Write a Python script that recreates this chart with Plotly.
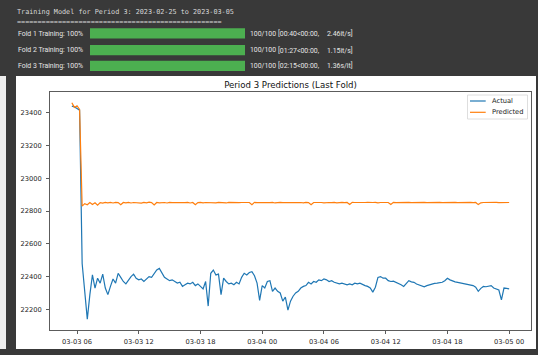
import plotly.graph_objects as go
import pandas as pd

# ---------------- data ----------------
header_text = "Training Model for Period 3: 2023-02-25 to 2023-03-05"
separator_text = "=" * 50
fold_labels = ["Fold 1 Training: 100%", "Fold 2 Training: 100%", "Fold 3 Training: 100%"]
fold_progress = [100, 100, 100]
fold_counts = ["100/100", "100/100", "100/100"]
fold_times = ["[00:40<00:00,", "[01:27<00:00,", "[02:15<00:00,"]
fold_rates = ["2.46it/s]", "1.15it/s]", "1.36s/it]"]

chart_title = "Period 3 Predictions (Last Fold)"
series_names = ["Actual", "Predicted"]

start_time = "2023-03-03 05:30"
step = "15min"

actual = [
    23440, 23435, 23425, 23415, 22480, 22330, 22140, 22290, 22410, 22330,
    22390, 22360, 22415, 22330, 22290, 22340, 22385, 22360, 22420, 22395,
    22370, 22355, 22380, 22400, 22415, 22390, 22380, 22385, 22370, 22385,
    22400, 22395, 22420, 22440, 22450, 22420, 22395, 22385, 22375, 22380,
    22370, 22360, 22365, 22340, 22350, 22360, 22355, 22365, 22345, 22355,
    22340, 22325, 22370, 22220, 22420, 22440, 22410, 22415, 22290, 22390,
    22370, 22355, 22360, 22350, 22365, 22355, 22395, 22420, 22410, 22425,
    22430, 22405, 22360, 22255, 22345, 22330, 22370, 22375, 22310, 22330,
    22310, 22300, 22250, 22275, 22195, 22250, 22280, 22300, 22310, 22330,
    22340, 22345, 22365, 22355, 22370, 22365, 22380, 22375, 22385, 22380,
    22370, 22375, 22365, 22360, 22355, 22360, 22355, 22350, 22355, 22350,
    22360, 22355, 22360, 22350, 22345, 22340, 22330, 22305, 22335, 22395,
    22400, 22390, 22390, 22375, 22370, 22372, 22365, 22360, 22350, 22340,
    22355, 22375, 22368, 22365, 22355, 22350, 22345, 22338, 22345, 22350,
    22352, 22358, 22360, 22362, 22365, 22375, 22390, 22380, 22372, 22368,
    22365, 22362, 22358, 22355, 22352, 22350, 22345, 22335, 22310, 22328,
    22340, 22338, 22342, 22345, 22330, 22325, 22318, 22258, 22330, 22328,
    22325,
]

predicted = [
    23460, 23432, 23442, 23420, 22830,
    22845, 22838, 22852, 22840, 22850, 22836, 22851, 22848, 22853, 22850,
    22852, 22849, 22853, 22851, 22838, 22852, 22850, 22853, 22849, 22852,
    22851, 22853, 22848, 22852, 22850, 22854, 22851, 22837, 22852, 22850,
    22853, 22852, 22849, 22853, 22851, 22852, 22850, 22853, 22852, 22851,
    22853, 22849, 22852, 22838, 22851, 22853, 22850, 22852, 22851, 22853,
    22852, 22850, 22853, 22851, 22852, 22849, 22853, 22852, 22850, 22853,
    22851, 22852, 22853, 22850, 22852, 22839, 22853, 22851, 22852, 22850,
    22853, 22852, 22851, 22853, 22849, 22852, 22853, 22851, 22852, 22850,
    22853, 22852, 22851, 22853, 22852, 22850, 22853, 22851, 22838, 22852,
    22853, 22851, 22852, 22850, 22853, 22852, 22851, 22853, 22850, 22852,
    22853, 22851, 22852, 22840, 22853, 22852, 22851, 22853, 22850, 22852,
    22853, 22851, 22852, 22853, 22850, 22852, 22851, 22853, 22852, 22840,
    22853, 22851, 22852, 22853, 22850, 22852, 22853, 22851, 22852, 22853,
    22850, 22852, 22853, 22851, 22852, 22853, 22850, 22852, 22853, 22851,
    22852, 22853, 22850, 22852, 22853, 22851, 22852, 22853, 22850, 22852,
    22853, 22851, 22852, 22839, 22850, 22852, 22853, 22851, 22852, 22853,
    22853, 22851, 22852, 22853, 22850, 22852,
]

# ---------------- build ----------------
t_actual = pd.date_range(start=start_time, periods=len(actual), freq=step)
t_pred = pd.date_range(start=start_time, periods=len(predicted), freq=step)

W, H = 550, 355
L, R, T, B = 50, 19, 92, 25
PW, PH = W - L - R, H - T - B


def px(x):
    return (x - L) / PW


def py(y):
    return (H - B - y) / PH


# matplotlib-like 5% autoscale margins
t0 = min(t_actual[0], t_pred[0])
t1 = max(t_actual[-1], t_pred[-1])
span = t1 - t0
xr = [t0 - span * 0.05, t1 + span * 0.05]
vmin = min(min(actual), min(predicted))
vmax = max(max(actual), max(predicted))
yr = [vmin - (vmax - vmin) * 0.05, vmax + (vmax - vmin) * 0.05]

BLUE = "#1f77b4"
ORANGE = "#ff7f0e"
DARK = "#393939"

fig = go.Figure()
fig.add_trace(go.Scatter(x=t_actual, y=actual, mode="lines", name=series_names[0],
                         line=dict(color=BLUE, width=1.2), showlegend=False))
fig.add_trace(go.Scatter(x=t_pred, y=predicted, mode="lines", name=series_names[1],
                         line=dict(color=ORANGE, width=1.2), showlegend=False))

shapes = []
annotations = []


def rect(x0, y0, x1, y1, fill, line_color=None, lw=0, layer="below"):
    shapes.append(dict(type="rect", xref="paper", yref="paper",
                       x0=px(x0), x1=px(x1), y0=py(y1), y1=py(y0),
                       fillcolor=fill, line=dict(color=line_color or fill, width=lw),
                       layer=layer))


def text(x, y, s, size, color, family, anchor="left"):
    annotations.append(dict(xref="paper", yref="paper", x=px(x), y=py(y), text=s,
                            showarrow=False, xanchor=anchor, yanchor="middle",
                            borderpad=0,
                            font=dict(size=size, color=color, family=family)))


# notebook background
rect(0, 0, 538, 355, DARK)
rect(0, 76, 6, 349, "#eeeeee")
rect(16, 76, 536, 349, "#ffffff")

# header text
MONO = "DejaVu Sans Mono"
SANS_UI = "Roboto"
text(16, 12, header_text, 6.8, "#d8d8d8", MONO)
text(16, 22, separator_text, 6.8, "#d8d8d8", MONO)

row_y = [33.5, 50.3, 66.0]
bar_x0, bar_x1 = 90, 245
for i, yy in enumerate(row_y):
    text(17, yy, fold_labels[i], 6.9, "#e6e6e6", SANS_UI)
    rect(bar_x0, yy - 5.2, bar_x0 + (bar_x1 - bar_x0) * fold_progress[i] / 100, yy + 5.0, "#4caf50")
    text(249, yy, fold_counts[i], 6.9, "#e6e6e6", SANS_UI)
    text(277, yy, fold_times[i], 6.9, "#e6e6e6", SANS_UI)
    text(326, yy, fold_rates[i], 6.9, "#e6e6e6", SANS_UI)

# legend (matplotlib style)
CHART_FONT = "DejaVu Sans"
shapes.append(dict(type="rect", xref="paper", yref="paper",
                   x0=px(467.5), x1=px(527.5), y0=py(119), y1=py(95),
                   fillcolor="rgba(255,255,255,0.8)", line=dict(color="#d6d6d6", width=0.8),
                   layer="above"))
for yy, col, name in [(101, BLUE, series_names[0]), (112.3, ORANGE, series_names[1])]:
    shapes.append(dict(type="line", xref="paper", yref="paper",
                       x0=px(470), x1=px(485.7), y0=py(yy), y1=py(yy),
                       line=dict(color=col, width=1.2), layer="above"))
    text(490.5, yy, name, 6.7, "#222222", CHART_FONT)

axis_common = dict(showline=True, mirror=True, linecolor="#333333", linewidth=0.8,
                   ticks="outside", ticklen=3, tickwidth=0.8, tickcolor="#333333",
                   showgrid=False, zeroline=False, automargin=False,
                   tickfont=dict(size=6.7, color="#222222", family=CHART_FONT))

fig.update_layout(
    width=W, height=H,
    margin=dict(l=L, r=R, t=T, b=B, pad=0),
    paper_bgcolor="#ffffff",
    plot_bgcolor="#ffffff",
    showlegend=False,
    title=dict(text=chart_title, x=px(290.5), xref="paper", xanchor="center",
               y=1 - 85 / H, yref="container", yanchor="middle",
               font=dict(size=8.6, color="#111111", family=CHART_FONT)),
    xaxis=dict(type="date", range=[str(xr[0]), str(xr[1])],
               tick0="2023-03-03 00:00", dtick=6 * 3600 * 1000,
               tickformat="%m-%d %H", ticklabelstandoff=2, **axis_common),
    yaxis=dict(range=yr, tick0=0, dtick=200, tickformat="d",
               ticklabelstandoff=3, **axis_common),
    shapes=shapes,
    annotations=annotations,
)

fig.write_html("out.html",
               config={"displayModeBar": False, "staticPlot": True},
               post_script="document.body.style.margin='0';document.body.style.overflow='hidden';")
